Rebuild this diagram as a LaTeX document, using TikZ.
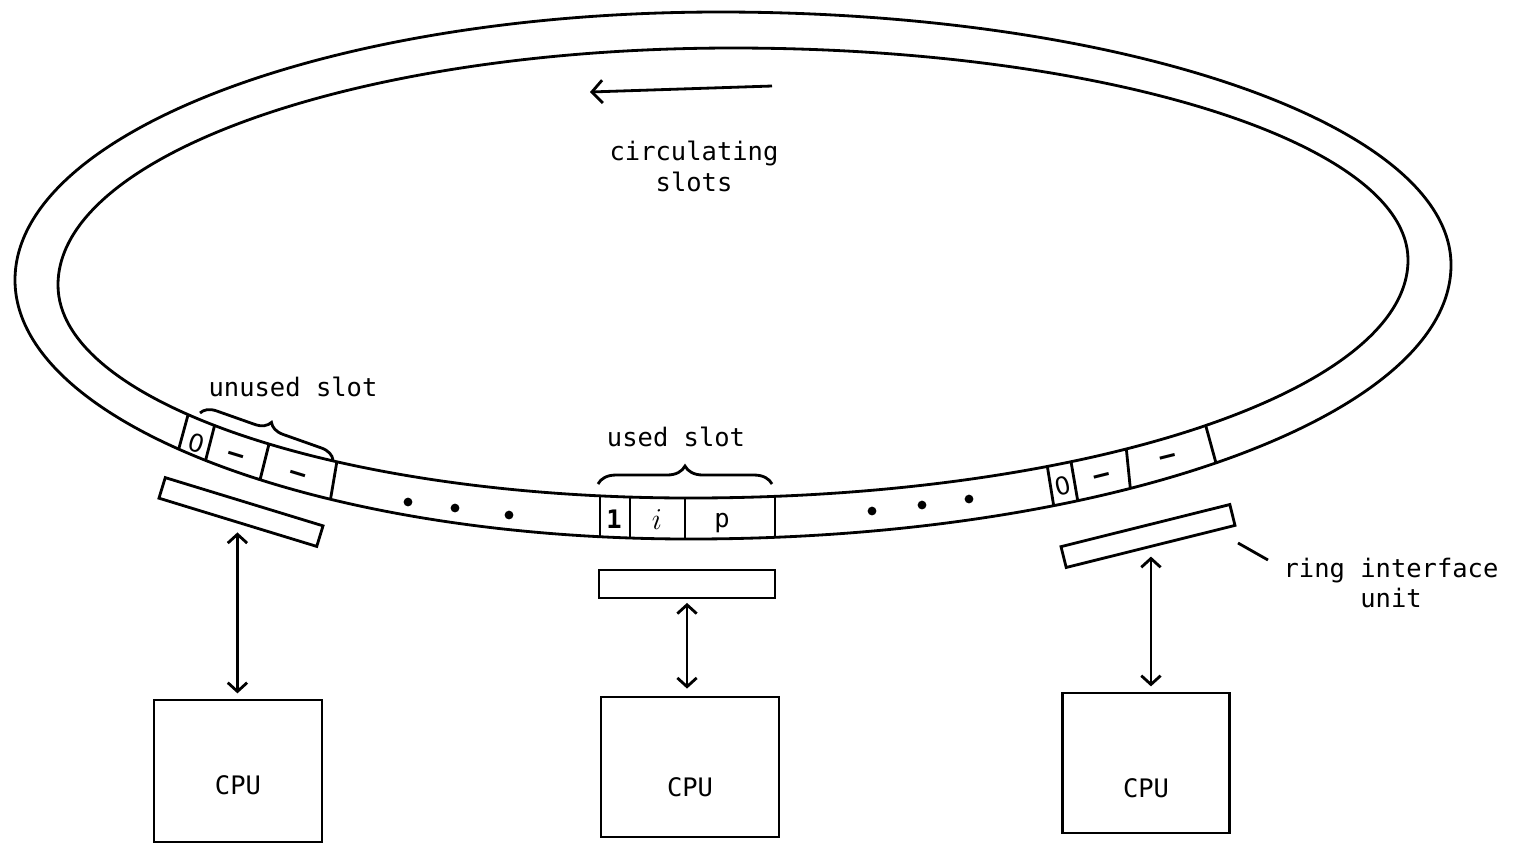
\documentclass[tikz,border=0pt]{standalone}
\usepackage{fontspec}
\setmonofont{DejaVu Sans Mono}
\newfontfamily\plainsans{DejaVu Sans}
\usetikzlibrary{arrows.meta,decorations.pathreplacing}

\begin{document}
\begin{tikzpicture}[x=0.02cm, y=-0.02cm, line width=1.6pt,
    lbl/.style={font=\ttfamily\fontsize{14.5}{17.6}\selectfont, align=center, inner sep=0pt},
    bitlbl/.style={font=\plainsans\fontsize{14}{16}\selectfont, inner sep=0pt},
    cpubox/.style={draw, minimum width=3.36cm, minimum height=2.84cm},
    riubox/.style={draw, fill=white, minimum width=3.3cm, minimum height=0.43cm, inner sep=0pt},
    duplex/.style={{Straight Barb[length=5pt,width=11pt]}-{Straight Barb[length=5pt,width=11pt]}, shorten <=5pt, shorten >=3pt},
    brc/.style={decorate, decoration={brace, amplitude=0.3cm}},
    slotdot/.style={circle, fill, inner sep=0pt, minimum size=5pt}
]
    \useasboundingbox (0,0) rectangle (1513,850);

    % Ring outline
    \path[save path=\outerring] (15,280)
        .. controls (15,132) and (331,12) .. (720,12)
        .. controls (1124,12) and (1451,125) .. (1451,265)
        .. controls (1451,416) and (1110,539) .. (690,539)
        .. controls (317,539) and (15,423) .. (15,280) -- cycle;
    \path[save path=\innerring] (58,285)
        .. controls (58,154) and (360,48) .. (733,48)
        .. controls (1106,48) and (1408,143) .. (1408,260)
        .. controls (1408,391) and (1087,498) .. (690,498)
        .. controls (341,498) and (58,403) .. (58,285) -- cycle;

    % Slot boundaries
    \begin{scope}
        \clip[use path=\outerring];
        \draw (191,404) -- (173,470);
        \draw (216,420) -- (200,482);
        \draw (271,436) -- (255,500);
        \draw (338,455) -- (327,520);
        \draw (600,480) -- (600,555);
        \draw (630,480) -- (630,555);
        \draw (685,480) -- (685,555);
        \draw (775,480) -- (775,555);
        \draw (1045,452) -- (1056,520);
        \draw (1069,450) -- (1080,514);
        \draw (1125,436) -- (1132,505);
        \draw (1202,412) -- (1222,485);
    \end{scope}
    \fill[white, use path=\innerring];
    \draw[use path=\innerring];
    \draw[use path=\outerring];

    % Slot contents
    \node[bitlbl, rotate=-17] (uz) at (197,443) {0};
    \node[lbl, rotate=-17] (ua) at (235,458) {\textbf{–}};
    \node[lbl, rotate=-17] (ub) at (297,477) {\textbf{–}};
    \node[lbl] (uone) at (614,519) {\textbf{1}};
    \node[lbl, font=\fontsize{17}{18}\selectfont] (ui) at (657,520) {$i$};
    \node[lbl] (up) at (722,523) {p};
    \node[bitlbl, rotate=14] (rz) at (1063,486) {0};
    \node[lbl, rotate=14] (ra) at (1102,478) {\textbf{–}};
    \node[lbl, rotate=14] (rb) at (1168,459) {\textbf{–}};
    \node[slotdot] (d1) at (408,502) {};
    \node[slotdot] (d2) at (455,508) {};
    \node[slotdot] (d3) at (509,515) {};
    \node[slotdot] (d4) at (872,511) {};
    \node[slotdot] (d5) at (922,505) {};
    \node[slotdot] (d6) at (969,499) {};

    % Draw nodes
    \node[riubox, rotate=-17] (riuL) at (241,512) {};
    \node[riubox, minimum width=3.52cm, minimum height=0.56cm] (riuM) at (687,584) {};
    \node[riubox, rotate=14, minimum width=3.48cm] (riuR) at (1148,536) {};
    \node[cpubox, label={[lbl, yshift=-0.28cm]center:CPU}] (cpuL) at (238,771) {};
    \node[cpubox, minimum width=3.56cm, minimum height=2.8cm,
        label={[lbl, yshift=-0.4cm]center:CPU}] (cpuM) at (690,767) {};
    \node[cpubox, minimum width=3.34cm, minimum height=2.8cm,
        label={[lbl, yshift=-0.5cm]center:CPU}] (cpuR) at (1146,763) {};

    % Draw connections
    \draw[duplex] (riuL.south) -- (riuL.south |- cpuL.north);
    \draw[duplex, shorten <=2pt, shorten >=4pt] (riuM.south) -- (riuM.south |- cpuM.north);
    \draw[duplex] (riuR.south) -- (riuR.south |- cpuR.north);

    % Labels
    \coordinate (circA) at (772,86);
    \coordinate (circB) at (590,92);
    \draw[-{Straight Barb[length=6pt,width=13pt]}] (circA) -- (circB);
    \node[lbl] (circlbl) at (694,166) {circulating\\slots};

    \coordinate (bUa) at (200,413);
    \coordinate (bUb) at (333,460);
    \draw[brc] (bUa) -- (bUb);
    \node[lbl] (unusedlbl) at (293,387) {unused slot};

    \coordinate (bSa) at (598,484);
    \coordinate (bSb) at (772,484);
    \draw[brc, decoration={amplitude=0.36cm}] (bSa) -- (bSb);
    \node[lbl] (usedlbl) at (676,437) {used slot};

    \node[lbl] (riulbl) at (1391,583) {ring interface\\unit};
    \coordinate (ldrA) at (1238,543);
    \coordinate (ldrB) at (1268,560);
    \draw (ldrA) -- (ldrB);
\end{tikzpicture}
\end{document}
